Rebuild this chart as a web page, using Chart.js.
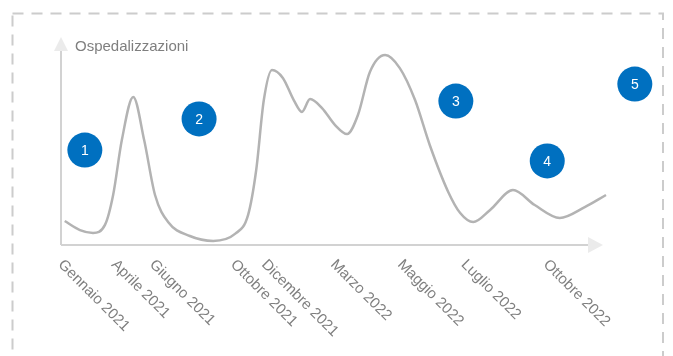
<!DOCTYPE html>
<html>
<head>
<meta charset="utf-8">
<script src="https://cdn.jsdelivr.net/npm/chart.js@4"></script>
<style>
  body { margin: 0; background: #fff; }
  canvas { display: block; }
</style>
</head>
<body>
<canvas id="chart" width="673" height="356"></canvas>
<script>
// curva ospedalizzazioni (x: posizione sul tempo, y: valore relativo 0-100)
const curveX = [0.5, 3.3, 5.7, 7.9, 9.4, 11.0, 13.1, 15.1, 17.1, 19.5, 23.5, 27.8, 31.8, 34.2, 35.7, 37.1, 38.6, 40.6, 42.6, 44.1, 45.6, 47.8, 50.2, 52.4, 54.4, 56.6, 59.4, 62.1, 64.9, 67.6, 71.0, 73.2, 75.6, 78.7, 82.9, 86.9, 91.5, 96.1, 100];
const curveY = [11.7, 7.3, 5.9, 9.8, 24.4, 51.2, 72.2, 51.2, 24.4, 11.2, 4.4, 2.0, 5.4, 14.6, 36.6, 70.7, 85.4, 81.5, 70.7, 64.9, 71.2, 66.8, 58.5, 54.1, 63.4, 84.4, 92.7, 86.3, 70.7, 48.8, 25.9, 15.6, 11.2, 17.1, 26.8, 19.5, 13.2, 18.5, 24.4];

// etichette asse x
const tickLabels = ['Gennaio 2021', 'Aprile 2021', 'Giugno 2021', 'Ottobre 2021', 'Dicembre 2021', 'Marzo 2022', 'Maggio 2022', 'Luglio 2022', 'Ottobre 2022'];
const tickValues = [0.5, 10.3, 17.3, 32.2, 37.9, 50.6, 62.9, 74.6, 89.7];

// cerchi numerati
const markerLabels = ['1', '2', '3', '4', '5'];
const markerX = [4.2, 25.2, 72.4, 89.2, 105.3];
const markerY = [46.3, 61.5, 70.2, 41.0, 78.5];

const yTitle = 'Ospedalizzazioni';

const FONT = '"Liberation Sans", Arial, sans-serif';

const decor = {
  id: 'decor',
  beforeDraw(chart) {
    const ctx = chart.ctx;
    const area = chart.chartArea;
    const x0 = area.left - 1, y0 = area.bottom;
    ctx.save();
    // bordo tratteggiato
    ctx.strokeStyle = '#cccccc';
    ctx.lineWidth = 2;
    ctx.setLineDash([11, 8]);
    ctx.strokeRect(12.5, 13.5, 650.5, 420);
    ctx.setLineDash([]);

    // assi
    ctx.strokeStyle = '#d2d2d2';
    ctx.lineWidth = 2;
    ctx.beginPath();
    ctx.moveTo(x0, y0);
    ctx.lineTo(x0, 50);
    ctx.moveTo(x0, y0);
    ctx.lineTo(588, y0);
    ctx.stroke();
    ctx.fillStyle = '#ebebeb';
    ctx.beginPath();
    ctx.moveTo(x0, 37);
    ctx.lineTo(x0 - 7, 51);
    ctx.lineTo(x0 + 7, 51);
    ctx.closePath();
    ctx.fill();
    ctx.beginPath();
    ctx.moveTo(603, y0);
    ctx.lineTo(588, y0 - 8);
    ctx.lineTo(588, y0 + 8);
    ctx.closePath();
    ctx.fill();

    // titolo asse y
    ctx.fillStyle = '#7f7f7f';
    ctx.font = '15px ' + FONT;
    ctx.textBaseline = 'middle';
    ctx.fillText(yTitle, 75, 47);

    // etichette x ruotate
    const xs = chart.scales.x;
    ctx.textBaseline = 'top';
    ctx.textAlign = 'left';
    tickLabels.forEach((t, i) => {
      const px = xs.getPixelForValue(tickValues[i]);
      ctx.save();
      ctx.translate(px + 1, 257);
      ctx.rotate(Math.PI / 4);
      ctx.fillText(t, 0, 0);
      ctx.restore();
    });
    ctx.restore();
  },
  afterDraw(chart) {
    const ctx = chart.ctx;
    const meta = chart.getDatasetMeta(1);
    ctx.save();
    ctx.fillStyle = '#ffffff';
    ctx.font = '14px ' + FONT;
    ctx.textAlign = 'center';
    ctx.textBaseline = 'middle';
    meta.data.forEach((pt, i) => {
      ctx.fillText(markerLabels[i], pt.x, pt.y + 1);
    });
    ctx.restore();
  }
};

new Chart(document.getElementById('chart'), {
  type: 'scatter',
  data: {
    datasets: [
      {
        data: curveX.map((x, i) => ({ x, y: curveY[i] })),
        showLine: true,
        borderColor: '#b3b3b3',
        borderWidth: 2.5,
        pointRadius: 0,
        cubicInterpolationMode: 'monotone',
        clip: false
      },
      {
        data: markerX.map((x, i) => ({ x, y: markerY[i] })),
        backgroundColor: '#0070c0',
        borderWidth: 0,
        pointRadius: 17.5,
        pointHoverRadius: 17.5,
        clip: false
      }
    ]
  },
  options: {
    responsive: false,
    animation: false,
    devicePixelRatio: 1,
    layout: { padding: { left: 62, right: 23, top: 40, bottom: 111 } },
    plugins: { legend: { display: false }, tooltip: { enabled: false } },
    scales: {
      x: { type: 'linear', min: 0, max: 108.09, display: false },
      y: { min: 0, max: 100, display: false }
    }
  },
  plugins: [decor]
});
</script>
</body>
</html>
